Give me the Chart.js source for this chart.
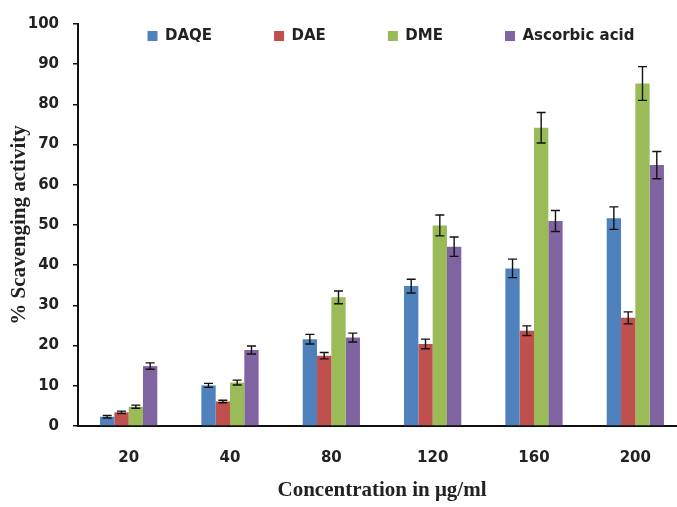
<!DOCTYPE html>
<html>
<head>
<meta charset="utf-8">
<script src="https://cdn.jsdelivr.net/npm/chart.js@4.4.1/dist/chart.umd.min.js"></script>
<style>
    html, body { margin: 0; padding: 0; background: #fff; overflow: hidden; }
    .chart-box { position: relative; width: 686px; height: 507px; }
</style>
</head>
<body>
<div class="chart-box"><canvas id="scavChart"></canvas></div>
<script>
// Data
const concentrations = ['20', '40', '80', '120', '160', '200'];
const daqe = [2.3, 10.1, 21.6, 34.8, 39.2, 51.7];
const dae = [3.4, 6.1, 17.5, 20.4, 23.7, 26.9];
const dme = [4.8, 10.8, 32.0, 49.9, 74.2, 85.2];
const ascorbic = [14.9, 18.9, 22.0, 44.6, 51.0, 64.9];
// +/- error
const daqeErr = [0.3, 0.5, 1.2, 1.7, 2.3, 2.8];
const daeErr = [0.3, 0.3, 0.8, 1.2, 1.2, 1.5];
const dmeErr = [0.4, 0.6, 1.6, 2.6, 3.8, 4.2];
const ascorbicErr = [0.8, 1.0, 1.1, 2.4, 2.6, 3.4];
const yTicks = [0, 10, 20, 30, 40, 50, 60, 70, 80, 90, 100];

const tickFont = { family: '"DejaVu Sans", sans-serif', size: 15, weight: 'bold' };
const titleFont = { family: '"Liberation Serif", "Times New Roman", serif', size: 21, weight: 'bold' };

// error bars drawn at each bar's x, using the y scale
const errorBars = {
    id: 'errorBars',
    afterDatasetsDraw(chart) {
        const ctx = chart.ctx;
        const y = chart.scales.y;
        ctx.save();
        ctx.strokeStyle = '#111';
        ctx.lineWidth = 1.4;
        chart.data.datasets.forEach((ds, i) => {
            const meta = chart.getDatasetMeta(i);
            meta.data.forEach((bar, j) => {
                const v = ds.data[j];
                const e = ds.errors[j];
                const top = y.getPixelForValue(v + e);
                const bot = y.getPixelForValue(v - e);
                const cap = 4.5;
                ctx.beginPath();
                ctx.moveTo(bar.x, top);
                ctx.lineTo(bar.x, bot);
                ctx.moveTo(bar.x - cap, top);
                ctx.lineTo(bar.x + cap, top);
                ctx.moveTo(bar.x - cap, bot);
                ctx.lineTo(bar.x + cap, bot);
                ctx.stroke();
            });
        });
        ctx.restore();
    }
};

// legend takes no layout room and sits inside the plot, near its top edge
const legendInside = {
    id: 'legendInside',
    beforeLayout(chart) {
        const lg = chart.legend;
        if (lg && !lg._flat) {
            const fit = lg.fit.bind(lg);
            lg.fit = () => {
                fit();
                lg._realHeight = lg.height;
                lg.height = 0;
            };
            lg._flat = true;
        }
    },
    afterLayout(chart) {
        const lg = chart.legend;
        // wide box so the row never wraps; centre of left/right picks where it starts
        lg.left = 22;
        lg.right = 760;
        lg.width = lg.right - lg.left;
        lg.height = lg._realHeight;
        lg.top = 36 - lg.options.labels.padding - 7.5;
        lg.bottom = lg.top + lg.height;
    }
};

new Chart(document.getElementById('scavChart'), {
    type: 'bar',
    data: {
        labels: concentrations,
        datasets: [
            { label: 'DAQE', data: daqe, errors: daqeErr, backgroundColor: '#4F81BD' },
            { label: 'DAE', data: dae, errors: daeErr, backgroundColor: '#C0504D' },
            { label: 'DME', data: dme, errors: dmeErr, backgroundColor: '#9BBB59' },
            { label: 'Ascorbic acid', data: ascorbic, errors: ascorbicErr, backgroundColor: '#8064A2' }
        ]
    },
    options: {
        responsive: true,
        maintainAspectRatio: false,
        animation: false,
        layout: { padding: { top: 24, right: 0, bottom: 0, left: 0 } },
        datasets: {
            bar: { barPercentage: 1.0, categoryPercentage: 0.565 }
        },
        plugins: {
            legend: {
                position: 'top',
                labels: {
                    boxWidth: 10,
                    boxHeight: 10,
                    padding: 62,
                    color: '#222',
                    font: tickFont
                }
            },
            tooltip: { enabled: false }
        },
        scales: {
            x: {
                offset: true,
                grid: { display: false, drawTicks: false },
                border: { display: true, color: '#111', width: 2 },
                ticks: { color: '#222', font: tickFont, padding: 23 },
                title: {
                    display: true,
                    text: 'Concentration in μg/ml',
                    color: '#222',
                    font: titleFont,
                    padding: { top: 0, bottom: 4 }
                },
                afterFit(scale) { scale.height = 81; }
            },
            y: {
                min: 0,
                max: 100,
                afterBuildTicks(scale) { scale.ticks = yTicks.map(v => ({ value: v })); },
                grid: { drawOnChartArea: false, drawTicks: true, tickLength: 5, color: '#111', lineWidth: 1.5 },
                border: { display: true, color: '#111', width: 2 },
                ticks: { color: '#222', font: tickFont, padding: 14 },
                title: {
                    display: true,
                    text: '% Scavenging activity',
                    color: '#222',
                    font: titleFont,
                    padding: { top: 7, bottom: 0 }
                },
                afterFit(scale) { scale.width = 78; }
            }
        }
    },
    plugins: [errorBars, legendInside]
});
</script>
</body>
</html>
